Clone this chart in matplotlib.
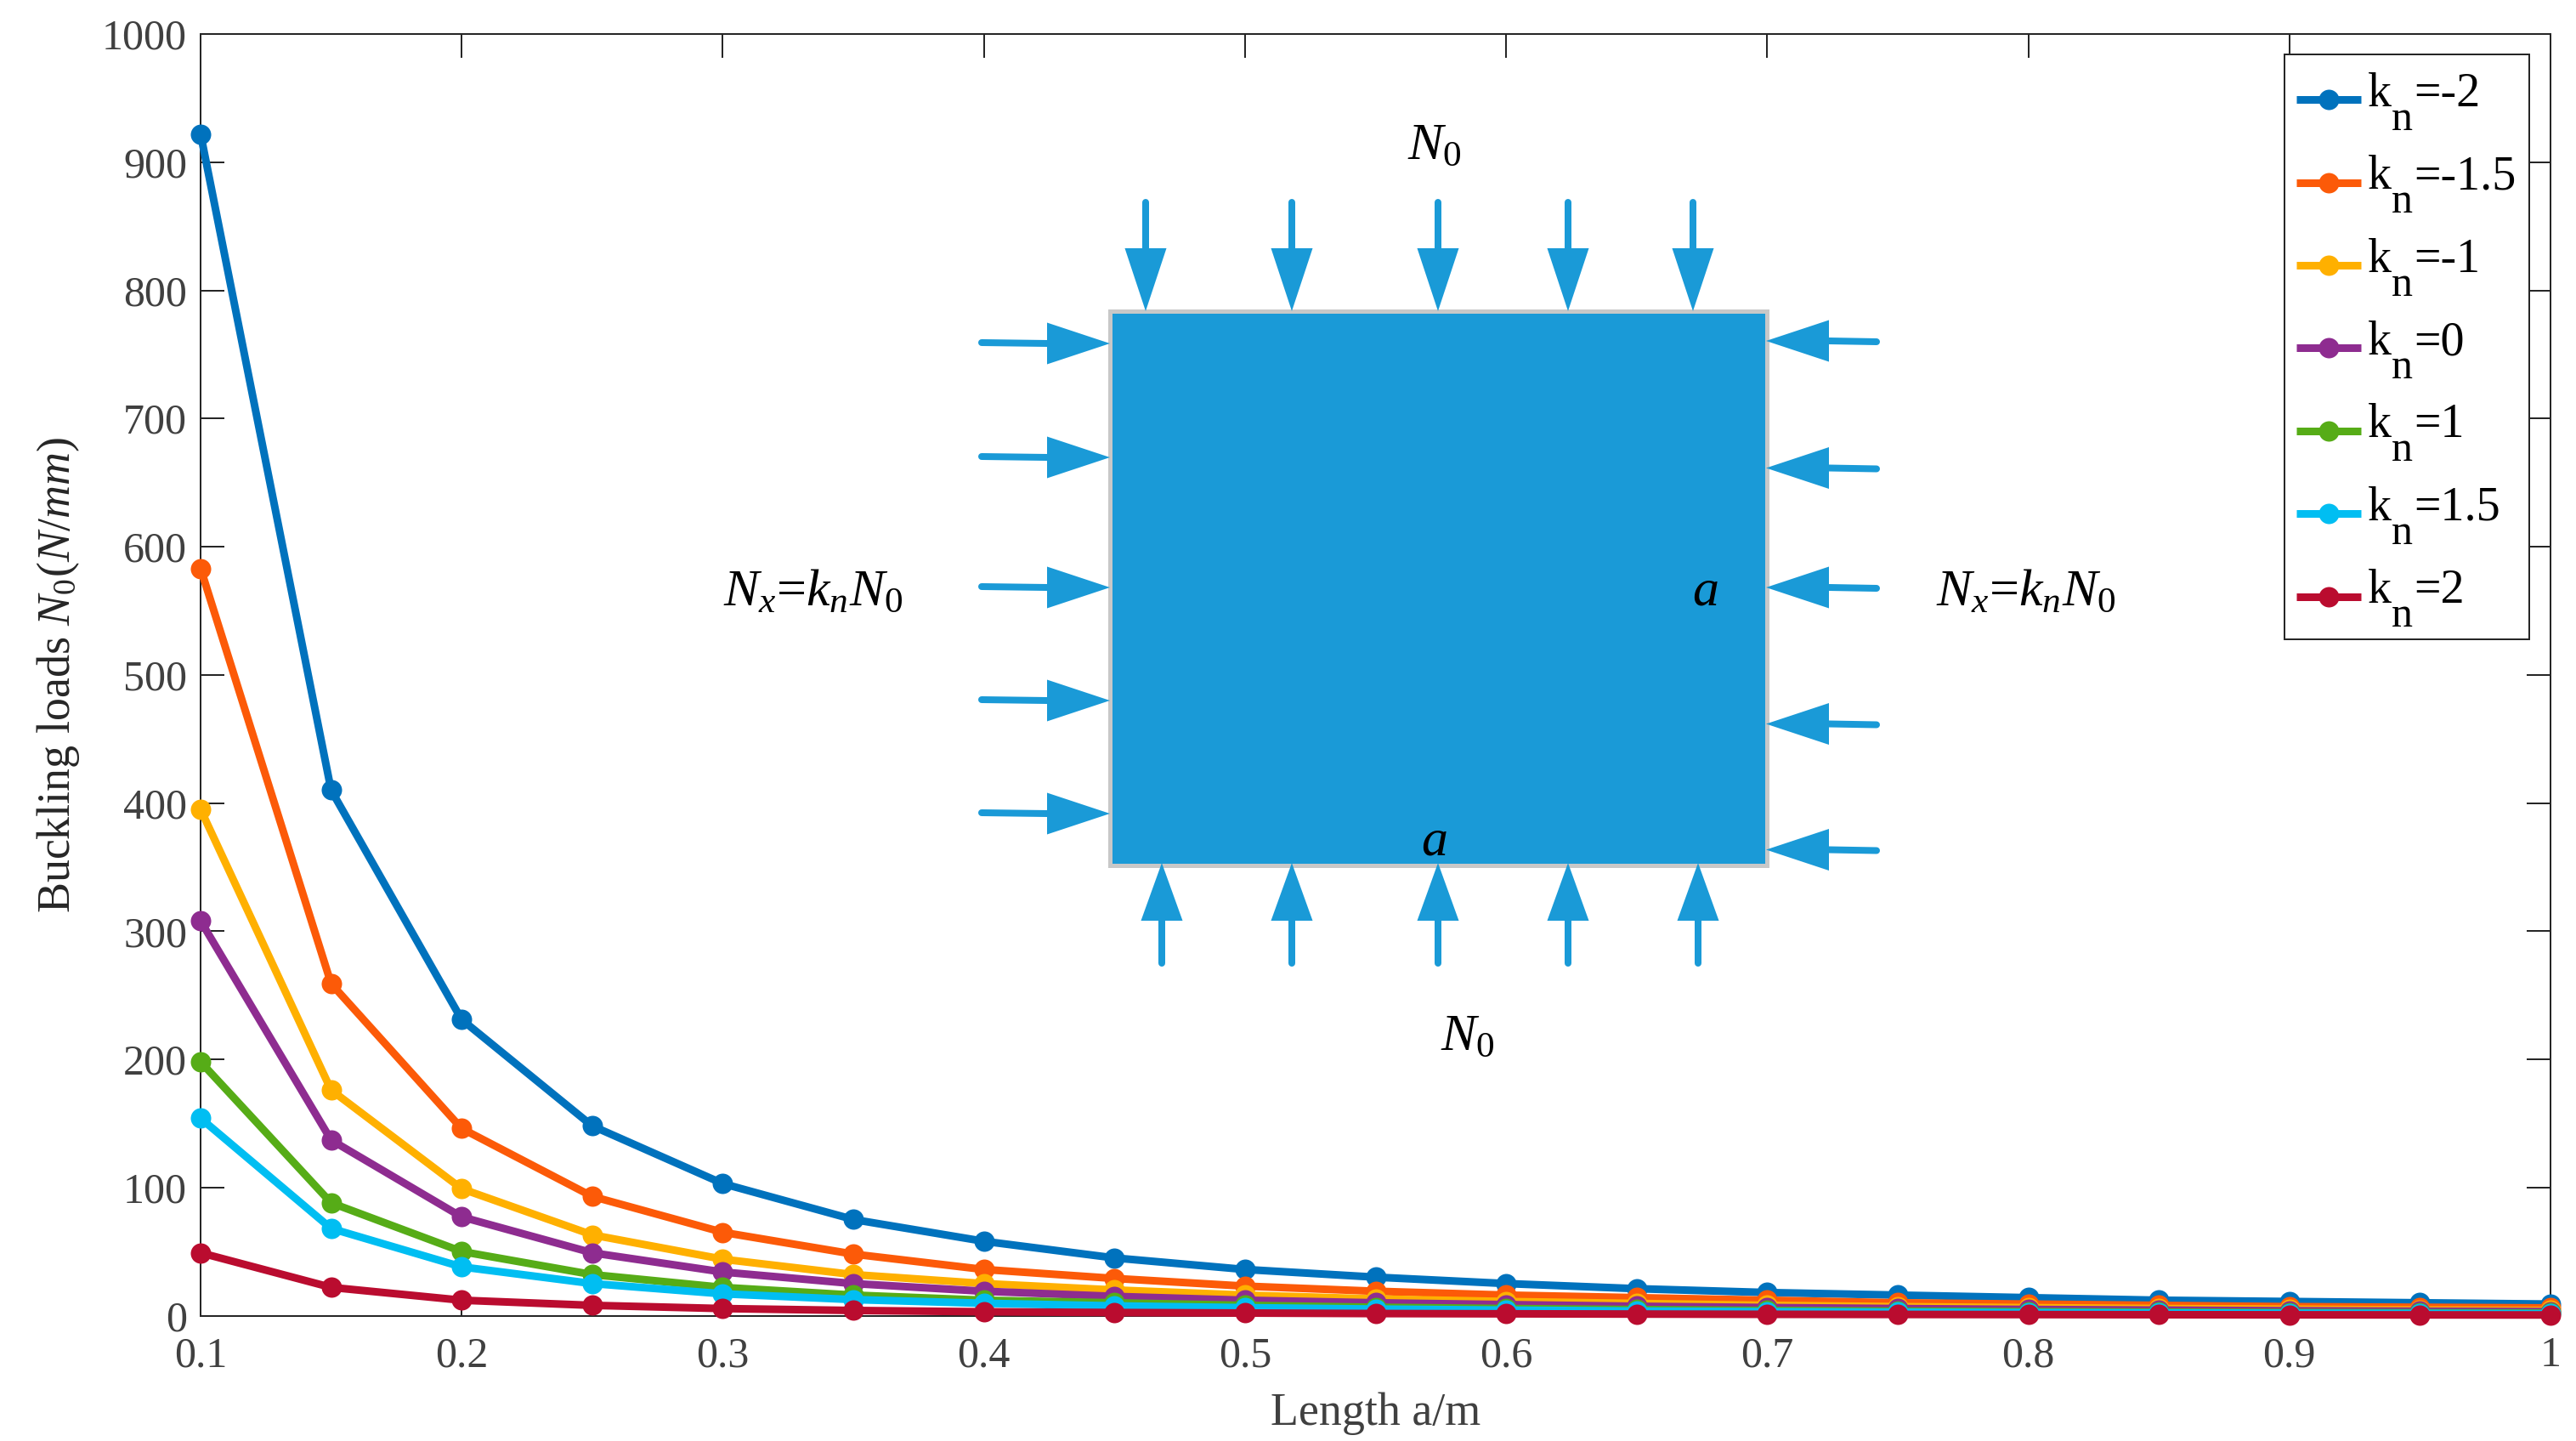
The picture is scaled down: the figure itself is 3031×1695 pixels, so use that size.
import matplotlib
matplotlib.use('Agg')
import matplotlib.pyplot as plt
from matplotlib.lines import Line2D
from matplotlib.patches import Polygon, Rectangle
from matplotlib.transforms import Affine2D

plt.rcParams['font.family'] = ['Liberation Serif', 'DejaVu Serif']
plt.rcParams['mathtext.fontset'] = 'custom'
plt.rcParams['mathtext.rm'] = 'Liberation Serif'
plt.rcParams['mathtext.it'] = 'Liberation Serif:italic'
plt.rcParams['mathtext.bf'] = 'Liberation Serif:bold'

# Data
lengths = [0.1, 0.15, 0.2, 0.25, 0.3, 0.35, 0.4, 0.45, 0.5, 0.55, 0.6, 0.65, 0.7, 0.75, 0.8, 0.85, 0.9, 0.95, 1.0]
kn_m2 = [922, 410, 231, 148, 103, 75, 58, 45, 36, 30, 25, 21, 18, 16, 14, 12, 11, 10, 9]
kn_m15 = [583, 259, 146, 93, 65, 48, 36, 29, 23, 19, 16, 14, 12, 10, 9, 8, 7, 6.5, 6]
kn_m1 = [395, 176, 99, 63, 44, 32, 25, 20, 16, 13, 11, 9.5, 8, 7, 6.2, 5.5, 5, 4.4, 4]
kn_0 = [308, 137, 77, 49, 34, 25, 19, 15, 12, 10, 8.6, 7.3, 6.3, 5.5, 4.8, 4.3, 3.8, 3.4, 3.1]
kn_1 = [198, 88, 50, 32, 22, 16, 12, 10, 8, 6.5, 5.5, 4.7, 4, 3.5, 3.1, 2.7, 2.4, 2.2, 2]
kn_15 = [154, 68, 38, 25, 17, 12.5, 9.6, 7.6, 6.2, 5.1, 4.3, 3.6, 3.1, 2.7, 2.4, 2.1, 1.9, 1.7, 1.5]
kn_2 = [49, 22, 12, 8, 5.5, 4, 3, 2.4, 2, 1.6, 1.4, 1.2, 1, 0.9, 0.8, 0.7, 0.6, 0.55, 0.5]
series = [kn_m2, kn_m15, kn_m1, kn_0, kn_1, kn_15, kn_2]
kn_values = ['-2', '-1.5', '-1', '0', '1', '1.5', '2']
colors = ['#0072BD', '#FC5A08', '#FFB000', '#8E2C90', '#56AC17', '#00BEF2', '#BA0C2F']

x_ticks = [0.1, 0.2, 0.3, 0.4, 0.5, 0.6, 0.7, 0.8, 0.9, 1.0]
x_tick_labels = ['0.1', '0.2', '0.3', '0.4', '0.5', '0.6', '0.7', '0.8', '0.9', '1']
y_ticks = list(range(0, 1001, 100))

W, H = 3031, 1695
PX = 0.72  # points per pixel at dpi 100
TEXT_GRAY = '#404040'
AXIS_COLOR = '#262626'
PLATE_BLUE = '#1A9AD7'

fig = plt.figure(figsize=(W / 100, H / 100), dpi=100, facecolor='white')
ax = fig.add_axes([236 / W, 1 - 1547.5 / H, (3001 - 236) / W, (1547.5 - 40) / H])

for values, color, kn in zip(series, colors, kn_values):
    ax.plot(lengths, values, color=color, linewidth=9 * PX, marker='o', markersize=24 * PX,
            markeredgewidth=0, clip_on=False, zorder=3, solid_capstyle='butt', label='=' + kn)

ax.set_xlim(0.1, 1)
ax.set_ylim(0, 1000)
ax.set_xticks(x_ticks)
ax.set_xticklabels(x_tick_labels)
ax.set_yticks(y_ticks)
ax.tick_params(axis='both', direction='in', top=True, right=True, length=28 * PX, width=2 * PX,
               color=AXIS_COLOR, labelcolor=TEXT_GRAY, labelsize=50 * PX)
ax.tick_params(axis='x', pad=24 * PX)
ax.tick_params(axis='y', pad=16 * PX)
for spine in ax.spines.values():
    spine.set_linewidth(2 * PX)
    spine.set_color(AXIS_COLOR)

ax.set_xlabel('Length a/m', fontsize=54 * PX, color=TEXT_GRAY, labelpad=20 * PX)
ax.set_ylabel(r'Buckling loads $\mathit{N_0(N/mm)}$', fontsize=54 * PX, color='#262626')
ax.yaxis.set_label_coords(-0.0505, 0.5)

# frame of the legend, the legend itself only holds the samples and the labels
to_px = Affine2D().scale(1 / W, -1 / H).translate(0, 1) + fig.transFigure
fig.add_artist(Rectangle((2688, 64), 288, 688, facecolor='white', edgecolor=AXIS_COLOR,
                         linewidth=2 * PX, transform=to_px, zorder=2))

FONT_LEG = 56
leg = ax.legend(loc='upper left', bbox_to_anchor=((2702 - 236) / (3001 - 236), 1 - 45 / 1507.5),
                fontsize=FONT_LEG * PX, frameon=False, borderaxespad=0, borderpad=0,
                handlelength=76 / FONT_LEG, handletextpad=62 / FONT_LEG, labelspacing=0.81)
leg.set_figure(fig)
ax.legend_ = None
fig.add_artist(leg)
leg.set_zorder(3)


def arrow(tail, base, tip, half):
    x0, y0 = tail
    x1, y1 = base
    x2, y2 = tip
    fig.add_artist(Line2D([x0, x1], [y0, y1], color=PLATE_BLUE, linewidth=8 * PX,
                          solid_capstyle='round', transform=to_px))
    if x1 == x2:
        corners = [(x1 - half, y1), (x1 + half, y1), (x2, y2)]
    else:
        corners = [(x1, y1 - half), (x1, y1 + half), (x2, y2)]
    fig.add_artist(Polygon(corners, closed=True, facecolor=PLATE_BLUE, edgecolor='none', transform=to_px))


fig.add_artist(Rectangle((1305.5, 365.5), 773, 652, facecolor=PLATE_BLUE, edgecolor='#C8C8C8',
                         linewidth=5 * PX, transform=to_px))

for x in [1348, 1520, 1692, 1845, 1992]:
    arrow((x, 238), (x, 292), (x, 366), 24.5)
for x in [1367, 1520, 1692, 1845, 1998]:
    arrow((x, 1133), (x, 1083), (x, 1015), 24.5)
for y in [404, 538, 691, 824, 957]:
    arrow((1155, y - 1), (1232, y), (1306, y), 24.5)
for y in [401, 550.5, 691, 851.5, 999.5]:
    arrow((2208, y + 1), (2152, y), (2078, y), 24.5)

DIAGRAM_FONT = 62 * PX
labels = [
    (1656, 187, r'$\mathit{N}_{\mathrm{0}}$'),
    (1695, 1235, r'$\mathit{N}_{\mathrm{0}}$'),
    (851, 712, r'$\mathit{N_x}$=$\mathit{k_nN}_{\mathrm{0}}$'),
    (2278, 712, r'$\mathit{N_x}$=$\mathit{k_nN}_{\mathrm{0}}$'),
    (1991, 712, r'$\mathit{a}$'),
    (1672, 1005, r'$\mathit{a}$'),
]
for x, y, s in labels:
    fig.text(x, y, s, fontsize=DIAGRAM_FONT, color='black', ha='left', va='baseline', transform=to_px)

# the k and the big subscript n sit in front of each legend label
fig.canvas.draw()
for line in leg.findobj(Line2D):
    line.set_ydata([v - 12 * PX for v in line.get_ydata()])
for t in leg.get_texts():
    bx, by = t.get_transform().transform((0, 0))
    fig.text(bx - 54, by, 'k', fontsize=FONT_LEG * PX, color='black', ha='left', va='baseline',
             transform=None, zorder=10)
    fig.text(bx - 26, by - 28, 'n', fontsize=50 * PX, color='black', ha='left', va='baseline',
             transform=None, zorder=10)

fig.savefig('out.png', dpi=100)
